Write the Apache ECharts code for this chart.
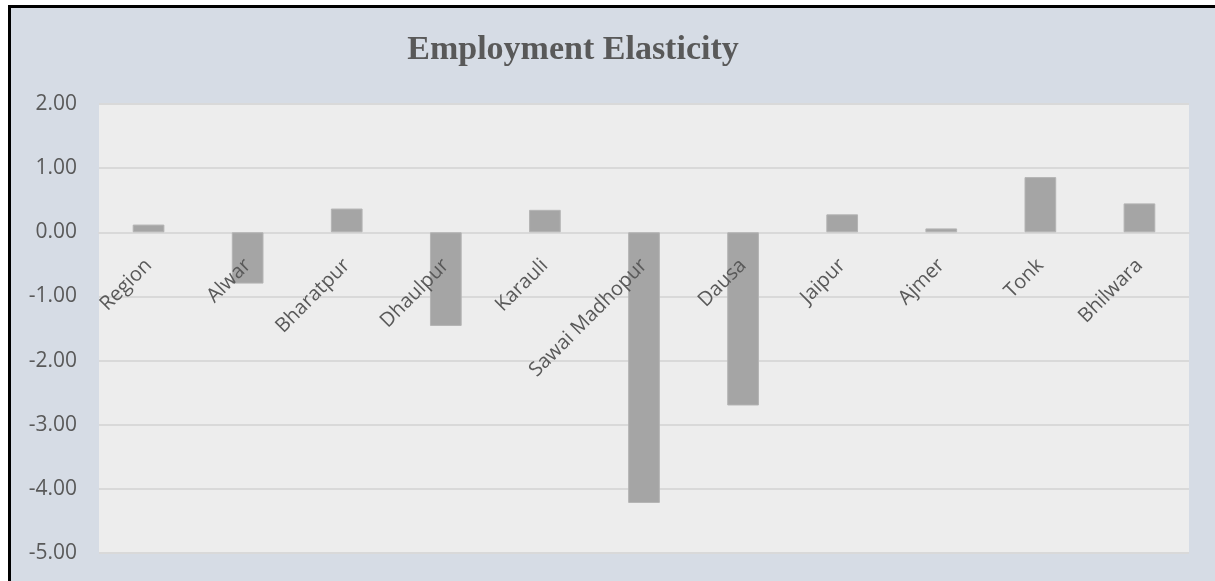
<!DOCTYPE html>
<html>
<head>
<meta charset="utf-8">
<script src="https://cdn.jsdelivr.net/npm/echarts@6/dist/echarts.min.js"></script>
<style>
  html, body { margin: 0; padding: 0; background: #ffffff; width: 1215px; height: 581px; overflow: hidden; }
  #frame {
    position: absolute; left: 8px; top: 5px; width: 1300px; height: 700px;
    background: #d6dce5; border-left: 3px solid #000; border-top: 3px solid #000;
  }
  #chart { position: absolute; left: 0; top: 0; width: 1215px; height: 581px; }
</style>
</head>
<body>
<div id="frame"></div>
<div id="chart"></div>
<script>
// Districts and their employment elasticity
const categories = ['Region', 'Alwar', 'Bharatpur', 'Dhaulpur', 'Karauli', 'Sawai Madhopur', 'Dausa', 'Jaipur', 'Ajmer', 'Tonk', 'Bhilwara'];
const elasticity = [0.12, -0.80, 0.37, -1.46, 0.35, -4.22, -2.70, 0.28, 0.06, 0.86, 0.45];
const yMin = -5;
const yMax = 2;
const yStep = 1;

const textColor = '#595959';
const gridColor = '#d9d9d9';

const W = 1215, H = 581;
const gridBox = { left: 99, right: 26, top: 104, bottom: 28 };
const plotH = H - gridBox.top - gridBox.bottom;
// distance from the plot bottom up to the zero line, so the category labels sit there
const zeroLift = plotH * (0 - yMin) / (yMax - yMin);

const chart = echarts.init(document.getElementById('chart'), null, { renderer: 'canvas' });
chart.setOption({
  backgroundColor: 'transparent',
  animation: false,
  title: {
    text: 'Employment Elasticity',
    left: 568,
    top: 28,
    textAlign: 'center',
    textStyle: {
      fontFamily: 'Liberation Serif',
      fontWeight: 'bold',
      fontSize: 34,
      color: textColor
    }
  },
  grid: Object.assign({
    outerBoundsMode: 'none',
    containLabel: false,
    show: true, backgroundColor: '#ededed', borderWidth: 0
  }, gridBox),
  xAxis: [{
    type: 'category',
    data: categories,
    axisLine: { onZero: true, lineStyle: { color: gridColor, width: 2 } },
    axisTick: { show: false },
    axisLabel: { show: false },
    splitLine: { show: false }
  }, {
    type: 'category',
    data: categories,
    position: 'bottom',
    offset: -zeroLift,
    z: 10,
    axisLine: { show: false, onZero: false },
    axisTick: { show: false },
    axisLabel: {
      interval: 0,
      rotate: 45,
      margin: 30,
      fontFamily: 'Open Sans',
      fontSize: 20,
      color: textColor
    },
    splitLine: { show: false }
  }],
  yAxis: {
    type: 'value',
    min: yMin,
    max: yMax,
    interval: yStep,
    axisLine: { show: false },
    axisTick: { show: false },
    axisLabel: {
      margin: 22,
      fontFamily: 'Open Sans',
      fontSize: 21,
      color: textColor,
      formatter: v => v.toFixed(2)
    },
    splitLine: { lineStyle: { color: gridColor, width: 2 } }
  },
  series: [{
    type: 'bar',
    xAxisIndex: 0,
    data: elasticity,
    barWidth: '32%',
    itemStyle: { color: '#a5a5a5', borderColor: '#b4b4b4', borderWidth: 1 }
  }]
});
</script>
</body>
</html>
